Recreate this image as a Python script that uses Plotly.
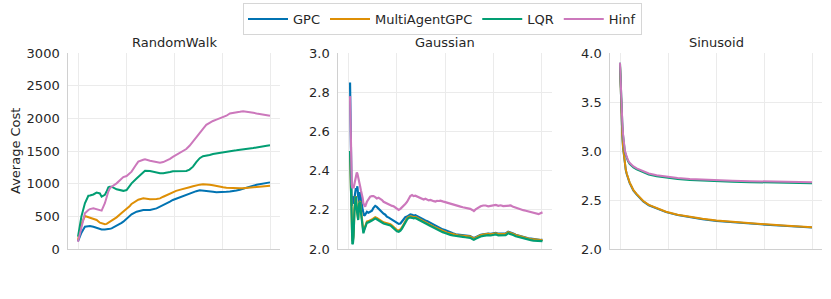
import plotly.graph_objects as go

# ---------------- data ----------------
series_names = ["GPC", "MultiAgentGPC", "LQR", "Hinf"]
panel_titles = ["RandomWalk", "Gaussian", "Sinusoid"]
x_ticks = [0, 250, 500, 750, 1000]

# RandomWalk
rw_x = [0, 18, 36, 54, 62, 80, 97, 114, 123, 140, 149, 158, 166, 175, 201, 227, 236, 253, 270, 279,
        305, 314, 340, 349, 375, 409, 427, 444, 462, 479, 494, 511, 529, 546, 564, 581, 599, 616, 634, 651,
        668, 686, 703, 721, 738, 756, 773, 791, 808, 825, 843, 860, 878, 895, 913, 930, 948, 965, 983, 1000]
rw_gpc = [117, 250, 342, 350, 352, 340, 325, 301, 300, 300, 301, 305, 310, 316, 352, 400, 419, 460, 505, 530,
          571, 580, 597, 598, 597, 622, 645, 673, 700, 724, 750, 770, 790, 810, 830, 850, 870, 885, 898, 895,
          890, 882, 875, 870, 868, 870, 875, 880, 885, 895, 908, 925, 942, 955, 970, 982, 992, 1002, 1012, 1020]
rw_magpc = [140, 380, 505, 490, 484, 465, 445, 403, 395, 378, 385, 400, 419, 440, 484, 550, 571, 615, 658, 690,
            740, 755, 775, 772, 760, 765, 775, 800, 827, 850, 870, 890, 905, 915, 930, 945, 960, 975, 985, 990,
            990, 985, 975, 962, 952, 945, 938, 933, 930, 928, 928, 930, 935, 945, 952, 958, 962, 965, 967, 970]
rw_lqr = [190, 500, 700, 815, 820, 835, 863, 850, 801, 830, 880, 944, 952, 954, 913, 893, 890, 903, 970, 1005,
          1080, 1107, 1180, 1199, 1195, 1170, 1158, 1160, 1165, 1180, 1190, 1190, 1188, 1192, 1195, 1215, 1260, 1330, 1390, 1420,
          1425, 1440, 1455, 1465, 1472, 1478, 1485, 1495, 1505, 1510, 1515, 1525, 1530, 1540, 1545, 1555, 1560, 1570, 1580, 1587]
rw_hinf = [110, 350, 546, 597, 610, 622, 610, 597, 587, 700, 801, 880, 930, 954, 1005, 1082, 1100, 1117, 1160, 1184,
           1300, 1337, 1365, 1372, 1350, 1335, 1322, 1330, 1350, 1380, 1410, 1440, 1470, 1500, 1530, 1580, 1650, 1720, 1775, 1840,
           1900, 1935, 1960, 1980, 2000, 2020, 2040, 2075, 2080, 2090, 2100, 2110, 2105, 2095, 2085, 2075, 2065, 2055, 2048, 2040]

# Gaussian
ga_x = [10, 13, 16, 19, 22, 25, 28, 33, 36, 40, 45, 48, 52, 57, 62, 66, 71, 75, 79, 83,
        88, 97, 105, 114, 123, 131, 140, 148, 157, 166, 175, 183, 192, 200, 210, 218, 227, 235, 243, 252,
        261, 270, 278, 287, 295, 304, 312, 321, 330, 338, 347, 356, 365, 373, 382, 390, 399, 407, 416, 425,
        433, 442, 451, 459, 468, 476, 488, 500, 514, 528, 541, 555, 567, 580, 592, 605, 618, 630, 643, 649,
        658, 670, 684, 697, 710, 723, 736, 749, 762, 775, 787, 800, 813, 826, 839, 852, 865, 878, 891, 904,
        917, 930, 943, 956, 970, 983, 995, 1003]
ga_gpc = [2.85, 2.55, 2.30, 2.22, 2.27, 2.25, 2.23, 2.26, 2.29, 2.31, 2.30, 2.32, 2.27, 2.24, 2.29, 2.27, 2.23, 2.20, 2.18, 2.17,
          2.175, 2.19, 2.185, 2.19, 2.195, 2.21, 2.22, 2.215, 2.205, 2.20, 2.19, 2.18, 2.175, 2.165, 2.16, 2.155, 2.148, 2.146, 2.14, 2.132,
          2.128, 2.13, 2.14, 2.15, 2.162, 2.165, 2.172, 2.177, 2.175, 2.17, 2.173, 2.168, 2.162, 2.158, 2.155, 2.15, 2.145, 2.143, 2.138, 2.135,
          2.132, 2.125, 2.12, 2.117, 2.11, 2.105, 2.10, 2.097, 2.09, 2.083, 2.08, 2.075, 2.073, 2.071, 2.070, 2.068, 2.067, 2.066, 2.058, 2.056,
          2.060, 2.066, 2.072, 2.075, 2.077, 2.079, 2.077, 2.080, 2.082, 2.078, 2.079, 2.077, 2.079, 2.088, 2.085, 2.079, 2.073, 2.069, 2.066, 2.062,
          2.058, 2.055, 2.053, 2.051, 2.049, 2.048, 2.046, 2.048]
ga_magpc = [2.50, 2.36, 2.24, 2.11, 2.04, 2.045, 2.07, 2.21, 2.265, 2.27, 2.21, 2.18, 2.155, 2.235, 2.245, 2.20, 2.155, 2.11, 2.09, 2.10,
            2.12, 2.14, 2.142, 2.145, 2.151, 2.156, 2.162, 2.158, 2.151, 2.146, 2.141, 2.136, 2.134, 2.132, 2.13, 2.126, 2.119, 2.111, 2.101, 2.096,
            2.094, 2.10, 2.11, 2.126, 2.145, 2.156, 2.164, 2.167, 2.165, 2.162, 2.164, 2.159, 2.153, 2.148, 2.144, 2.139, 2.134, 2.131, 2.126, 2.123,
            2.119, 2.114, 2.11, 2.106, 2.101, 2.096, 2.092, 2.088, 2.082, 2.078, 2.075, 2.072, 2.07, 2.069, 2.068, 2.066, 2.064, 2.063, 2.056, 2.053,
            2.058, 2.064, 2.07, 2.073, 2.076, 2.077, 2.075, 2.078, 2.08, 2.076, 2.077, 2.075, 2.077, 2.086, 2.083, 2.077, 2.071, 2.067, 2.064, 2.06,
            2.056, 2.053, 2.051, 2.049, 2.047, 2.046, 2.045, 2.046]
ga_lqr = [2.50, 2.35, 2.23, 2.10, 2.025, 2.03, 2.06, 2.20, 2.26, 2.267, 2.20, 2.17, 2.148, 2.233, 2.24, 2.19, 2.148, 2.10, 2.08, 2.095,
          2.114, 2.134, 2.136, 2.139, 2.145, 2.15, 2.156, 2.152, 2.145, 2.14, 2.135, 2.13, 2.128, 2.126, 2.124, 2.12, 2.113, 2.105, 2.095, 2.09,
          2.088, 2.094, 2.104, 2.12, 2.139, 2.15, 2.158, 2.161, 2.159, 2.156, 2.158, 2.153, 2.147, 2.142, 2.138, 2.133, 2.128, 2.125, 2.12, 2.117,
          2.113, 2.108, 2.104, 2.10, 2.095, 2.09, 2.086, 2.082, 2.076, 2.072, 2.069, 2.066, 2.064, 2.063, 2.062, 2.060, 2.058, 2.057, 2.050, 2.047,
          2.052, 2.058, 2.064, 2.067, 2.07, 2.071, 2.069, 2.072, 2.074, 2.070, 2.071, 2.069, 2.071, 2.080, 2.077, 2.071, 2.065, 2.061, 2.058, 2.054,
          2.050, 2.047, 2.045, 2.043, 2.041, 2.040, 2.039, 2.040]
ga_hinf = [2.78, 2.55, 2.38, 2.33, 2.31, 2.32, 2.31, 2.33, 2.35, 2.37, 2.39, 2.385, 2.37, 2.35, 2.32, 2.30, 2.284, 2.26, 2.233, 2.22,
           2.216, 2.241, 2.255, 2.267, 2.27, 2.27, 2.265, 2.258, 2.262, 2.258, 2.25, 2.241, 2.236, 2.235, 2.228, 2.224, 2.22, 2.218, 2.212, 2.205,
           2.199, 2.205, 2.212, 2.22, 2.23, 2.24, 2.255, 2.27, 2.275, 2.27, 2.272, 2.268, 2.262, 2.26, 2.255, 2.252, 2.256, 2.25, 2.248, 2.25,
           2.246, 2.244, 2.242, 2.246, 2.245, 2.247, 2.243, 2.24, 2.235, 2.23, 2.228, 2.225, 2.222, 2.216, 2.213, 2.21, 2.207, 2.205, 2.198, 2.194,
           2.202, 2.21, 2.218, 2.222, 2.222, 2.218, 2.22, 2.224, 2.225, 2.22, 2.223, 2.219, 2.22, 2.224, 2.222, 2.215, 2.21, 2.206, 2.202, 2.198,
           2.195, 2.192, 2.19, 2.186, 2.18, 2.178, 2.184, 2.187]

# Sinusoid
si_x = [0, 3, 6, 9, 12, 16, 21, 25, 30, 35, 42, 50, 60, 70, 87, 100, 121, 150, 191, 240,
        300, 364, 430, 503, 585, 677, 760, 850, 930, 1000]
si_gpc = [3.87, 3.64, 3.44, 3.28, 3.15, 3.03, 2.92, 2.865, 2.805, 2.765, 2.715, 2.675, 2.635, 2.596, 2.556, 2.531, 2.486, 2.446, 2.414, 2.376,
          2.346, 2.323, 2.304, 2.286, 2.272, 2.259, 2.248, 2.236, 2.226, 2.219]
si_magpc = [3.88, 3.65, 3.45, 3.29, 3.16, 3.04, 2.93, 2.87, 2.81, 2.77, 2.72, 2.68, 2.64, 2.60, 2.56, 2.535, 2.49, 2.45, 2.418, 2.38,
            2.35, 2.327, 2.308, 2.29, 2.276, 2.263, 2.252, 2.24, 2.23, 2.223]
si_lqr = [3.90, 3.69, 3.51, 3.39, 3.29, 3.16, 3.05, 3.00, 2.96, 2.925, 2.895, 2.87, 2.85, 2.833, 2.812, 2.80, 2.78, 2.76, 2.742, 2.728,
          2.715, 2.705, 2.698, 2.692, 2.687, 2.682, 2.679, 2.676, 2.674, 2.672]
si_hinf = [3.90, 3.70, 3.52, 3.40, 3.30, 3.17, 3.06, 3.01, 2.97, 2.935, 2.905, 2.88, 2.86, 2.843, 2.822, 2.81, 2.79, 2.77, 2.752, 2.738,
           2.725, 2.715, 2.708, 2.702, 2.697, 2.692, 2.689, 2.686, 2.684, 2.682]

y_ranges = [[0, 3000], [2.0, 3.0], [2.0, 4.0]]
y_ticks = [[0, 500, 1000, 1500, 2000, 2500, 3000],
           [2.0, 2.2, 2.4, 2.6, 2.8, 3.0],
           [2.0, 2.5, 3.0, 3.5, 4.0]]
y_ticktext = [["0", "500", "1000", "1500", "2000", "2500", "3000"],
              ["2.0", "2.2", "2.4", "2.6", "2.8", "3.0"],
              ["2.0", "2.5", "3.0", "3.5", "4.0"]]

# ---------------- styling ----------------
colors = ["#0173b2", "#de8f05", "#029e73", "#cc78bc"]
W, H = 831, 299
FONT = "DejaVu Sans"
TXT = "#262626"

panels = [
    (rw_x, [rw_gpc, rw_magpc, rw_lqr, rw_hinf], 2.0),
    (ga_x, [ga_gpc, ga_magpc, ga_lqr, ga_hinf], 2.2),
    (si_x, [si_gpc, si_magpc, si_lqr, si_hinf], 2.0),
]

# pixel extents of plot areas
x_px = [(68.4, 279.6), (338.4, 551.6), (610.4, 821.6)]
y_top, y_bot = 53, 249

fig = go.Figure()
for p, (xs, ys_list, lw) in enumerate(panels):
    xa = "x" if p == 0 else f"x{p+1}"
    ya = "y" if p == 0 else f"y{p+1}"
    for s, ys in enumerate(ys_list):
        fig.add_trace(go.Scatter(
            x=xs, y=ys, mode="lines", name=series_names[s],
            line=dict(color=colors[s], width=lw, shape="linear"),
            xaxis=xa, yaxis=ya, showlegend=(p == 0), legendgroup=series_names[s],
        ))

layout = dict(
    width=W, height=H,
    margin=dict(l=0, r=0, t=0, b=0, autoexpand=False),
    paper_bgcolor="white", plot_bgcolor="white",
    font=dict(family=FONT, size=13, color=TXT),
    legend=dict(orientation="h", x=(240 + 645) / 2 / W, xanchor="center",
                y=1 - 3 / H, yanchor="top",
                bordercolor="#d6d6d6", borderwidth=1,
                font=dict(family=FONT, size=13, color=TXT),
                itemwidth=40, tracegroupgap=0),
    annotations=[],
)
for p in range(3):
    xk = "xaxis" if p == 0 else f"xaxis{p+1}"
    yk = "yaxis" if p == 0 else f"yaxis{p+1}"
    anchor_y = "y" if p == 0 else f"y{p+1}"
    anchor_x = "x" if p == 0 else f"x{p+1}"
    layout[xk] = dict(domain=[x_px[p][0] / W, x_px[p][1] / W], range=[-50, 1050],
                      anchor=anchor_y, tickvals=x_ticks, showticklabels=False,
                      showgrid=True, gridcolor="#ebebeb", gridwidth=1,
                      showline=True, linecolor="#d0d0d0", linewidth=1.2,
                      zeroline=False, ticks="", automargin=False)
    layout[yk] = dict(domain=[1 - y_bot / H, 1 - y_top / H], range=y_ranges[p],
                      anchor=anchor_x, tickvals=y_ticks[p], ticktext=y_ticktext[p],
                      showgrid=True, gridcolor="#ebebeb", gridwidth=1,
                      showline=True, linecolor="#d0d0d0", linewidth=1.2,
                      zeroline=False, ticks="outside", ticklen=5, tickcolor="rgba(0,0,0,0)",
                      tickfont=dict(family=FONT, size=13, color=TXT), automargin=False)
    layout["annotations"].append(dict(
        text=panel_titles[p], xref="paper", yref="paper",
        x=(x_px[p][0] + x_px[p][1]) / 2 / W, y=1 - 42 / H,
        xanchor="center", yanchor="middle", showarrow=False,
        font=dict(family=FONT, size=13, color=TXT)))
layout["annotations"].append(dict(
    text="Average Cost", xref="paper", yref="paper", x=15 / W, y=1 - 151 / H,
    xanchor="center", yanchor="middle", textangle=-90, showarrow=False,
    font=dict(family=FONT, size=13, color=TXT)))

fig.update_layout(**layout)
fig.write_html("out.html", config={"displayModeBar": False},
               post_script="document.body.style.margin='0px';document.body.style.overflow='hidden';")
